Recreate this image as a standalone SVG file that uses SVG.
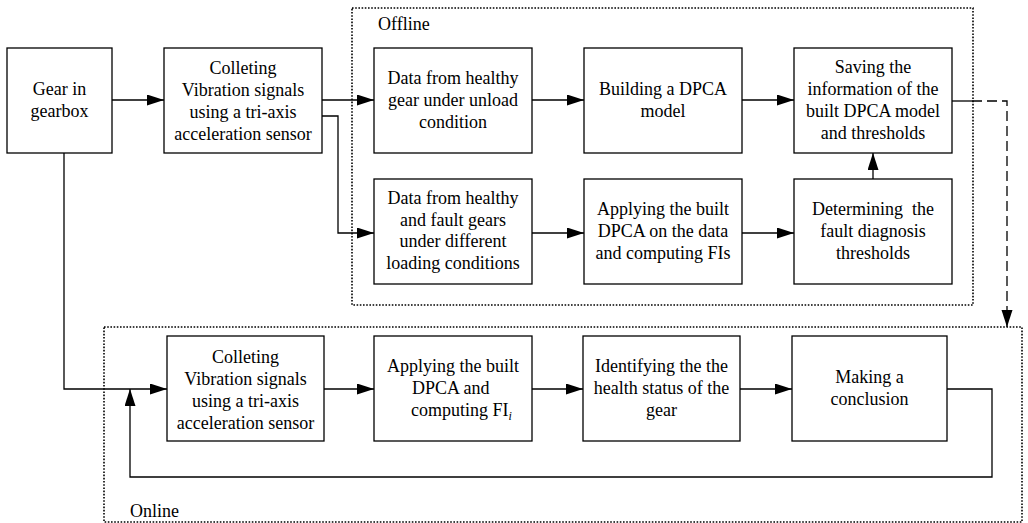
<svg xmlns="http://www.w3.org/2000/svg" width="1028" height="523" viewBox="0 0 1028 523" font-family="Liberation Serif, serif" font-size="18">
  <style>
    .box { fill: #fff; stroke: #000; stroke-width: 1.3; }
    .zone { fill: none; stroke: #000; stroke-width: 1.6; stroke-dasharray: 1.6 1.6; }
    .lbl { fill: #000; text-anchor: middle; }
    .tag { fill: #000; }
    .wire { fill: none; stroke: #000; stroke-width: 1.3; }
    .arrow { marker-end: url(#head); }
    .dash { stroke-dasharray: 10 5; }
  </style>
  <defs>
    <marker id="head" markerUnits="userSpaceOnUse" markerWidth="18" markerHeight="12" refX="17" refY="5.5" orient="auto">
      <path d="M0,0 L17,5.5 L0,11 Z" fill="#000"/>
    </marker>
  </defs>

  <rect width="1028" height="523" fill="#fff"/>

  <!-- stage regions -->
  <g id="offline-zone">
    <rect class="zone" x="352" y="8" width="621" height="297"/>
    <text class="tag" x="378" y="30">Offline</text>
  </g>
  <g id="online-zone">
    <rect class="zone" x="104" y="327" width="918" height="195"/>
    <text class="tag" x="130" y="517">Online</text>
  </g>

  <!-- connectors -->
  <g id="connectors">
    <path class="wire arrow" d="M112,100 H164"/>
    <path class="wire arrow" d="M322,100 H374"/>
    <path class="wire arrow" d="M322,116 H338 V233 H374"/>
    <path class="wire arrow" d="M532,100 H584"/>
    <path class="wire arrow" d="M742,100 H794"/>
    <path class="wire arrow" d="M532,233 H584"/>
    <path class="wire arrow" d="M742,233 H794"/>
    <path class="wire arrow" d="M873,179 V153"/>
    <path class="wire" d="M952,101 H972"/>
    <path class="wire dash arrow" d="M972,101 H1007 V327"/>
    <path class="wire arrow" d="M64,153 V389 H167"/>
    <path class="wire arrow" d="M324,389 H374"/>
    <path class="wire arrow" d="M532,389 H583"/>
    <path class="wire arrow" d="M740,389 H792"/>
    <path class="wire arrow" d="M947,389 H992 V477 H130 V389"/>
  </g>

  <!-- acquisition -->
  <g id="gear">
    <rect class="box" x="7" y="48" width="105" height="105"/>
    <text class="lbl" x="59.5" y="95">Gear in</text>
    <text class="lbl" x="59.5" y="117">gearbox</text>
  </g>
  <g id="collect-offline">
    <rect class="box" x="164" y="48" width="158" height="105"/>
    <text class="lbl" x="243" y="74">Colleting</text>
    <text class="lbl" x="243" y="96">Vibration signals</text>
    <text class="lbl" x="243" y="118">using a tri-axis</text>
    <text class="lbl" x="243" y="140">acceleration sensor</text>
  </g>

  <!-- offline stage -->
  <g id="data-unload">
    <rect class="box" x="374" y="48" width="158" height="105"/>
    <text class="lbl" x="453" y="84">Data from healthy</text>
    <text class="lbl" x="453" y="106">gear under unload</text>
    <text class="lbl" x="453" y="128">condition</text>
  </g>
  <g id="build-model">
    <rect class="box" x="584" y="48" width="158" height="105"/>
    <text class="lbl" x="663" y="95">Building a DPCA</text>
    <text class="lbl" x="663" y="117">model</text>
  </g>
  <g id="save-model">
    <rect class="box" x="794" y="48" width="158" height="105"/>
    <text class="lbl" x="873" y="73">Saving the</text>
    <text class="lbl" x="873" y="95">information of the</text>
    <text class="lbl" x="873" y="117">built DPCA model</text>
    <text class="lbl" x="873" y="139">and thresholds</text>
  </g>
  <g id="data-loading">
    <rect class="box" x="374" y="179" width="158" height="105"/>
    <text class="lbl" x="453" y="204">Data from healthy</text>
    <text class="lbl" x="453" y="226">and fault gears</text>
    <text class="lbl" x="453" y="247">under different</text>
    <text class="lbl" x="453" y="269">loading conditions</text>
  </g>
  <g id="apply-offline">
    <rect class="box" x="584" y="179" width="158" height="105"/>
    <text class="lbl" x="663" y="215">Applying the built</text>
    <text class="lbl" x="663" y="237">DPCA on the data</text>
    <text class="lbl" x="663" y="259">and computing FIs</text>
  </g>
  <g id="thresholds">
    <rect class="box" x="794" y="179" width="158" height="105"/>
    <text class="lbl" x="873" y="215">Determining&#160; the</text>
    <text class="lbl" x="873" y="237">fault diagnosis</text>
    <text class="lbl" x="873" y="259">thresholds</text>
  </g>

  <!-- online stage -->
  <g id="collect-online">
    <rect class="box" x="167" y="336" width="157" height="105"/>
    <text class="lbl" x="245.5" y="363">Colleting</text>
    <text class="lbl" x="245.5" y="385">Vibration signals</text>
    <text class="lbl" x="245.5" y="407">using a tri-axis</text>
    <text class="lbl" x="245.5" y="429">acceleration sensor</text>
  </g>
  <g id="apply-online">
    <rect class="box" x="374" y="336" width="158" height="105"/>
    <text class="lbl" x="453" y="372">Applying the built</text>
    <text class="tag" x="412" y="394">DPCA and</text>
    <text class="tag" x="411" y="416">computing FI<tspan font-size="12" font-style="italic" dy="4">i</tspan></text>
  </g>
  <g id="identify">
    <rect class="box" x="583" y="336" width="157" height="105"/>
    <text class="lbl" x="661.5" y="372">Identifying the the</text>
    <text class="lbl" x="661.5" y="394">health status of the</text>
    <text class="lbl" x="661.5" y="416">gear</text>
  </g>
  <g id="conclude">
    <rect class="box" x="792" y="336" width="155" height="105"/>
    <text class="lbl" x="869.5" y="383">Making a</text>
    <text class="lbl" x="869.5" y="405">conclusion</text>
  </g>
</svg>
